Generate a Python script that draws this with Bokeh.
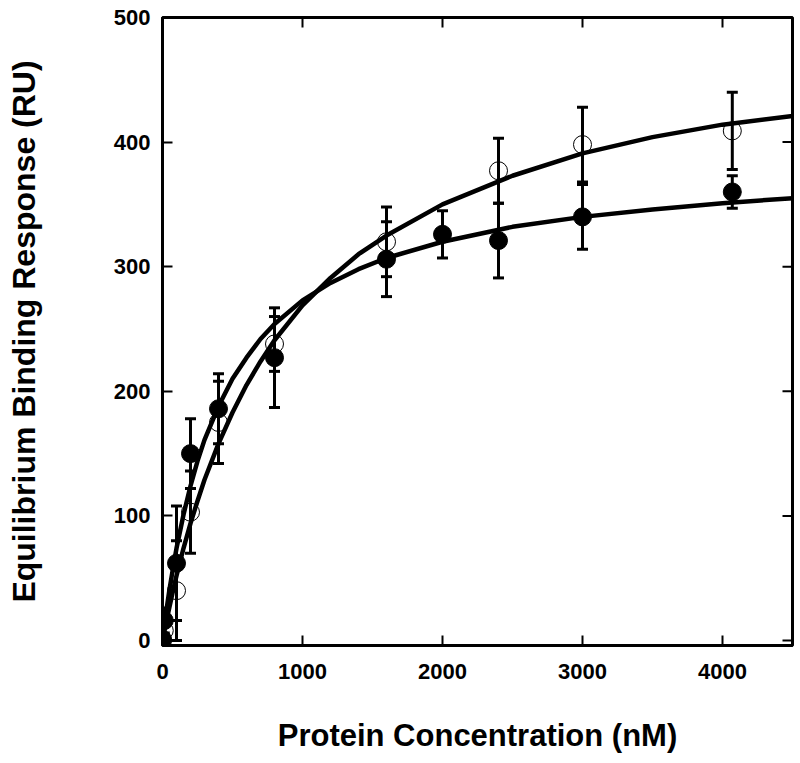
import math
from bokeh.plotting import figure
from bokeh.models import Range1d, FixedTicker, ColumnDataSource, Whisker, TeeHead
from bokeh.embed import file_html
from bokeh.resources import INLINE

# fitted curves
curve_x = [0, 25, 50, 75, 100, 150, 200, 250, 300, 400, 500, 600, 700, 800, 1000,
           1200, 1400, 1600, 2000, 2500, 3000, 3500, 4000, 4500]
filled_curve = [0, 22, 41, 58, 74, 101, 124, 144, 161, 188, 210, 227, 242, 254, 273,
                287, 298, 307, 320, 332, 340, 346, 351, 355]
open_curve = [0, 14, 27, 40, 52, 74, 94, 112, 129, 158, 183, 205, 224, 241, 269,
              291, 310, 325, 350, 373, 391, 404, 414, 421]

# filled circles with error bars
filled_x = [0, 12.5, 100, 200, 400, 800, 1600, 2000, 2400, 3000, 4070]
filled_y = [1, 16, 62, 150, 186, 227, 306, 326, 321, 340, 360]
filled_err = [2, 10, 46, 28, 28, 40, 30, 19, 30, 26, 13]

# open circles with error bars
open_x = [0, 12.5, 100, 200, 400, 800, 1600, 2400, 3000, 4070]
open_y = [0, 8, 40, 103, 175, 238, 320, 377, 398, 409]
open_err = [2, 8, 40, 33, 33, 22, 28, 26, 30, 31]

x_ticks = [0, 1000, 2000, 3000, 4000]
y_ticks = [0, 100, 200, 300, 400, 500]
x_min, x_max = 0, 4500
y_min, y_max = -4, 500

FONT = "Liberation Sans"

p = figure(width=796, height=762, output_backend="svg", toolbar_location=None,
           x_range=Range1d(x_min, x_max), y_range=Range1d(y_min, y_max),
           min_border_left=162, min_border_right=4, min_border_top=17,
           min_border_bottom=117,
           x_axis_label="Protein Concentration (nM)",
           y_axis_label="Equilibrium Binding Response (RU)")
p.grid.visible = False
p.outline_line_color = "black"
p.outline_line_width = 3
p.background_fill_color = "white"
p.border_fill_color = "white"

for ax, ticks in ((p.xaxis[0], x_ticks), (p.yaxis[0], y_ticks)):
    ax.ticker = FixedTicker(ticks=ticks)
    ax.major_tick_in = 10
    ax.major_tick_out = 0
    ax.major_tick_line_width = 2
    ax.minor_tick_line_color = None
    ax.axis_line_width = 3
    ax.major_label_text_font = FONT
    ax.major_label_text_font_style = "bold"
    ax.major_label_text_font_size = "22px"
    ax.major_label_text_color = "black"
    ax.axis_label_text_font = FONT
    ax.axis_label_text_font_style = "bold"
    ax.axis_label_text_color = "black"

p.xaxis[0].axis_label_text_font_size = "31px"
p.yaxis[0].axis_label_text_font_size = "32px"
p.xaxis[0].major_label_standoff = 18
p.xaxis[0].axis_label_standoff = 36
p.yaxis[0].major_label_standoff = 12
p.yaxis[0].axis_label_standoff = 69

# inward ticks on the top and right frame edges
p.ray(x=x_ticks, y=[y_max] * len(x_ticks), length=10, length_units="screen",
      angle=-math.pi / 2, line_color="black", line_width=2)
p.ray(x=[x_max] * len(y_ticks), y=y_ticks, length=10, length_units="screen",
      angle=math.pi, line_color="black", line_width=2)

p.line(curve_x, open_curve, line_color="black", line_width=4.5)
p.line(curve_x, filled_curve, line_color="black", line_width=4.5)

fsrc = ColumnDataSource(dict(x=filled_x, y=filled_y,
                             upper=[v + e for v, e in zip(filled_y, filled_err)],
                             lower=[v - e for v, e in zip(filled_y, filled_err)]))
osrc = ColumnDataSource(dict(x=open_x, y=open_y,
                             upper=[v + e for v, e in zip(open_y, open_err)],
                             lower=[v - e for v, e in zip(open_y, open_err)]))

for src in (osrc, fsrc):
    w = Whisker(source=src, base="x", upper="upper", lower="lower",
                line_color="black", line_width=3, level="glyph",
                upper_head=TeeHead(size=11, line_width=3, line_color="black"),
                lower_head=TeeHead(size=11, line_width=3, line_color="black"))
    p.add_layout(w)

p.scatter("x", "y", source=osrc, marker="circle", size=18, fill_color=None,
          line_color="black", line_width=1)
p.scatter("x", "y", source=fsrc, marker="circle", size=18, fill_color="black",
          line_color="black")

open("out.html", "w").write(file_html(p, INLINE))
